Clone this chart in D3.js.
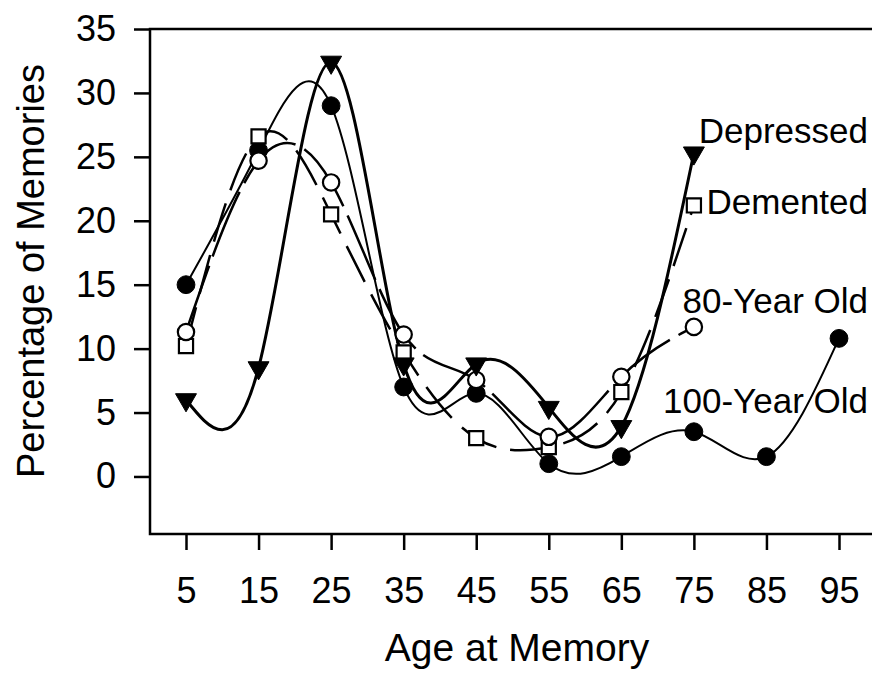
<!DOCTYPE html>
<html>
<head>
<meta charset="utf-8">
<script src="https://cdn.jsdelivr.net/npm/d3@7"></script>
<style>
  body { margin: 0; background: #fff; }
  svg text { font-family: "Liberation Sans", Arial, Helvetica, sans-serif; fill: #000; }
</style>
</head>
<body>
<div id="chart"></div>
<script>
// data
var ages = [5, 15, 25, 35, 45, 55, 65, 75, 85, 95];
var depressed = [6.0, 8.5, 32.4, 8.8, 8.8, 5.4, 3.9, 25.3];
var demented = [10.2, 26.6, 20.5, 9.7, 3.0, 2.3, 6.6, 21.2];
var eightyYear = [11.3, 24.7, 23.0, 11.1, 7.55, 3.1, 7.8, 11.7];
var hundredYear = [15.0, 25.5, 29.0, 7.0, 6.5, 1.0, 1.55, 3.5, 1.55, 10.8];
var yTicks = [0, 5, 10, 15, 20, 25, 30, 35];
var seriesNames = ["Depressed", "Demented", "80-Year Old", "100-Year Old"];

var svgWidth = 872;
var svgHeight = 675;

var margin = { top: 29, right: 0, bottom: 141, left: 150 };
var width = svgWidth - margin.left - margin.right;
var height = svgHeight - margin.top - margin.bottom;

var svg = d3.select("#chart")
  .append("svg")
  .attr("width", svgWidth)
  .attr("height", svgHeight);

var chartGroup = svg.append("g")
  .attr("transform", `translate(${margin.left}, ${margin.top})`);

// scales
var xScale = d3.scaleLinear().domain([5, 95]).range([36, 689]);
var yScale = d3.scaleLinear().domain([-4.5, 35]).range([height, 0]);

// axes
var leftAxis = d3.axisLeft(yScale)
  .tickValues(yTicks)
  .tickSize(16)
  .tickPadding(18);

var bottomAxis = d3.axisBottom(xScale)
  .tickValues(ages)
  .tickSize(16)
  .tickPadding(27);

var yAxisG = chartGroup.append("g").call(leftAxis);
var xAxisG = chartGroup.append("g")
  .attr("transform", `translate(0, ${height})`)
  .call(bottomAxis);

[yAxisG, xAxisG].forEach(function(g) {
  g.select(".domain").remove();
  g.selectAll(".tick line").attr("stroke", "#000").attr("stroke-width", 2.5);
  g.selectAll(".tick text")
    .style("font-size", "36px")
    .style("font-family", "'Liberation Sans', Arial, sans-serif")
    .attr("fill", "#000");
});

// frame: left, top, bottom
chartGroup.append("path")
  .attr("d", `M${width},0H0V${height}H${width}`)
  .attr("fill", "none")
  .attr("stroke", "#000")
  .attr("stroke-width", 2.5);

// lines
var line = d3.line()
  .x(function(d) { return xScale(d[0]); })
  .y(function(d) { return yScale(d[1]); })
  .curve(d3.curveNatural);

function pairs(values) {
  return values.map(function(v, i) { return [ages[i], v]; });
}

var series = [
  { name: seriesNames[0], values: pairs(depressed), width: 3, dash: null, marker: "tri" },
  { name: seriesNames[1], values: pairs(demented), width: 2.5, dash: "40,14", marker: "square" },
  { name: seriesNames[2], values: pairs(eightyYear), width: 2.5, dash: "70,10", marker: "open" },
  { name: seriesNames[3], values: pairs(hundredYear), width: 2, dash: null, marker: "filled" }
];

series.forEach(function(s) {
  chartGroup.append("path")
    .datum(s.values)
    .attr("d", line)
    .attr("fill", "none")
    .attr("stroke", "#000")
    .attr("stroke-width", s.width)
    .attr("stroke-dasharray", s.dash);
});

// markers
var symFilled = d3.symbol().type(d3.symbolCircle).size(250);
var symOpen = d3.symbol().type(d3.symbolCircle).size(210);
var symSquare = d3.symbol().type(d3.symbolSquare).size(200);
var symTri = d3.symbol().type(d3.symbolTriangle).size(190);

var order = [3, 1, 2, 0];
order.forEach(function(k) {
  var s = series[k];
  var g = chartGroup.append("g");
  var pts = g.selectAll("path")
    .data(s.values)
    .enter()
    .append("path")
    .attr("stroke", "#000");
  if (s.marker === "filled") {
    pts.attr("d", symFilled).attr("fill", "#000")
      .attr("transform", d => `translate(${xScale(d[0])},${yScale(d[1])})`);
  } else if (s.marker === "open") {
    pts.attr("d", symOpen).attr("fill", "#fff").attr("stroke-width", 2.2)
      .attr("transform", d => `translate(${xScale(d[0])},${yScale(d[1])})`);
  } else if (s.marker === "square") {
    pts.attr("d", symSquare).attr("fill", "#fff").attr("stroke-width", 2.2)
      .attr("transform", d => `translate(${xScale(d[0])},${yScale(d[1])})`);
  } else {
    pts.attr("d", symTri).attr("fill", "#000").attr("stroke-width", 1)
      .attr("transform", d => `translate(${xScale(d[0])},${yScale(d[1])}) rotate(180)`);
  }
});

// series labels
var labelY = [143, 214, 313, 413];
svg.selectAll(".series-label")
  .data(seriesNames)
  .enter()
  .append("text")
  .attr("class", "series-label")
  .attr("x", 868)
  .attr("y", (d, i) => labelY[i])
  .attr("text-anchor", "end")
  .style("font-size", "35px")
  .text(d => d);

// axis titles
svg.append("text")
  .attr("transform", "translate(44, 271) rotate(-90)")
  .attr("text-anchor", "middle")
  .style("font-size", "38px")
  .text("Percentage of Memories");

svg.append("text")
  .attr("x", 517)
  .attr("y", 661)
  .attr("text-anchor", "middle")
  .style("font-size", "39px")
  .text("Age at Memory");
</script>
</body>
</html>
